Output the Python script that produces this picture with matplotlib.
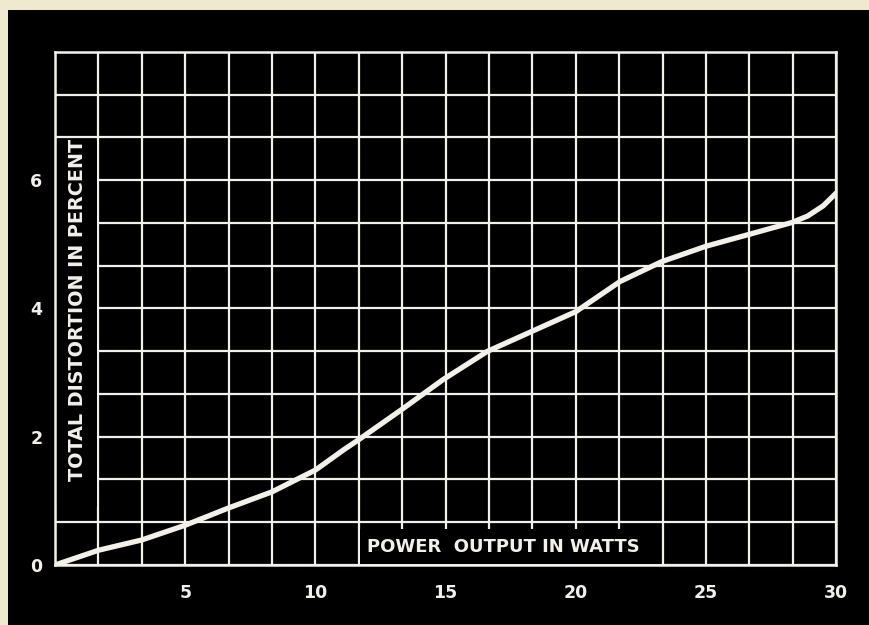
import numpy as np
import matplotlib
matplotlib.use("Agg")
import matplotlib.pyplot as plt
from matplotlib.patches import Rectangle

# values
power = [0, 1.67, 3.33, 5, 6.67, 8.33, 10, 11.1, 11.65, 13.3, 14.9, 16.6,
         18.3, 20.0, 21.7, 23.3, 25, 26.7, 28.3, 28.9, 29.5, 30]
distortion = [0, 0.23, 0.39, 0.62, 0.89, 1.14, 1.48, 1.80, 1.95, 2.42, 2.89,
              3.33, 3.64, 3.95, 4.42, 4.73, 4.97, 5.16, 5.34, 5.44, 5.60, 5.80]
x_ticks = [5, 10, 15, 20, 25, 30]
y_ticks = [0, 2, 4, 6]

fg = "#f2f0e8"

fig = plt.figure(figsize=(8.7, 6.25), dpi=100, facecolor="black")
# cream paper edge at top and left
fig.patches.append(Rectangle((0, 0.984), 1, 0.016, transform=fig.transFigure,
                             facecolor="#efe9cf", edgecolor="none"))
fig.patches.append(Rectangle((0, 0), 0.009, 1, transform=fig.transFigure,
                             facecolor="#efe9cf", edgecolor="none"))

ax = fig.add_axes([0.0632, 0.096, 0.898, 0.821])
ax.set_facecolor("black")
ax.set_xlim(0, 30)
ax.set_ylim(0, 8)

ax.xaxis.remove_overlapping_locs = False
ax.yaxis.remove_overlapping_locs = False
ax.set_xticks(np.arange(0, 30.01, 5 / 3), minor=True)
ax.set_yticks(np.arange(0, 8.01, 2 / 3), minor=True)
ax.set_xticks(x_ticks)
ax.set_yticks(y_ticks)
ax.grid(True, which="minor", color=fg, linewidth=1.6, zorder=1)
ax.tick_params(which="both", length=0, colors=fg, labelsize=12.5, pad=14)
ax.tick_params(axis="y", pad=9)
for lbl in ax.get_xticklabels() + ax.get_yticklabels():
    lbl.set_fontweight("bold")
for s in ax.spines.values():
    s.set_color(fg)
    s.set_linewidth(1.8)

# blanked-out grid cells behind the axis titles
ax.add_patch(Rectangle((11.72, 0.02), 11.56, 0.54, facecolor="black",
                       edgecolor="none", zorder=2))
ax.add_patch(Rectangle((0.03, 0.9), 1.58, 5.73, facecolor="black",
                       edgecolor="none", zorder=2))

ax.plot(power, distortion, color=fg, linewidth=3.8, solid_capstyle="round",
        solid_joinstyle="round", zorder=3)

ax.text(17.2, 0.28, "POWER  OUTPUT IN WATTS", color=fg, fontsize=13,
        fontweight="bold", ha="center", va="center", zorder=4)
ax.text(0.88, 3.97, "TOTAL DISTORTION IN PERCENT", color=fg, fontsize=13.8,
        fontweight="bold", rotation=90, ha="center", va="center", zorder=4)

fig.savefig("out.png", dpi=100, facecolor=fig.get_facecolor())
